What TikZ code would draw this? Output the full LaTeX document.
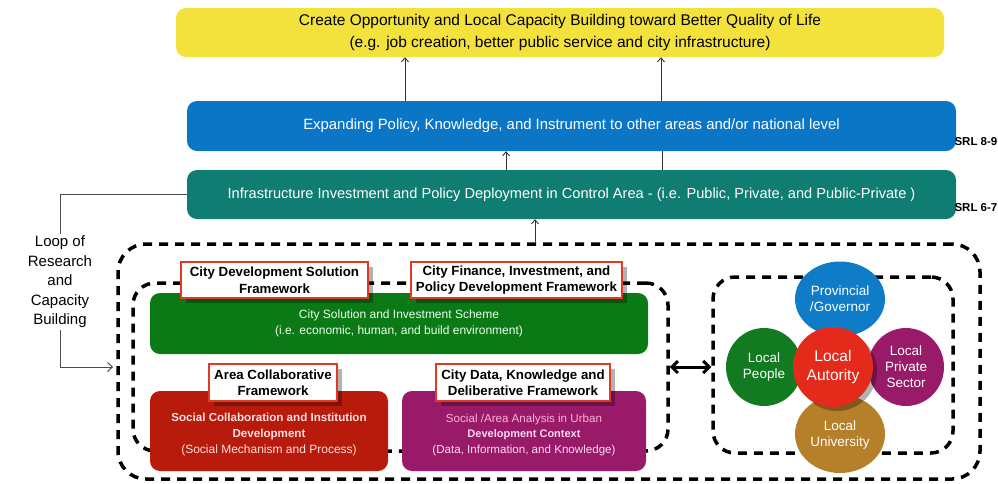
\documentclass[tikz,border=0pt]{standalone}
\usepackage{fontspec}
\setmainfont{Liberation Sans}
\usetikzlibrary{arrows.meta,shadows,calc,shapes.geometric}
\definecolor{cyellow}{HTML}{F4E23C}
\definecolor{cblue}{HTML}{0C76C6}
\definecolor{cteal}{HTML}{0F7D72}
\definecolor{cgreen}{HTML}{0B7A16}
\definecolor{cred}{HTML}{B81A0C}
\definecolor{cpurple}{HTML}{9A1A6A}
\definecolor{labred}{HTML}{E03A22}
\definecolor{ccblue}{HTML}{0F7CC8}
\definecolor{ccgreen}{HTML}{127A20}
\definecolor{ccred}{HTML}{E42A1A}
\definecolor{ccbrown}{HTML}{B67F2A}
\begin{document}
\begin{tikzpicture}[x=1pt,y=-1pt,
  box/.style={rounded corners=10pt, inner sep=0pt, align=center, text=white},
  dashbox/.style={draw=black, line width=3.5pt, dash pattern=on 9pt off 7pt, inner sep=0pt},
  lab/.style={draw=labred, line width=2.5pt, fill=white, align=center, inner sep=0pt,
    font=\fontsize{13.3}{16.5}\selectfont\bfseries,
    drop shadow={shadow xshift=5pt, shadow yshift=-5pt, opacity=0.3, fill=black}},
  arr/.style={draw=black!80, line width=0.9pt, -{Straight Barb[length=4pt,width=7pt]}},
  plainline/.style={draw=black!80, line width=0.9pt},
  loopline/.style={draw=black!70, line width=1pt},
  circ/.style={ellipse, inner sep=0pt, align=center, text=white, font=\fontsize{13.5}{16}\selectfont},
  srl/.style={anchor=west, font=\fontsize{11.5}{13}\selectfont\bfseries}
]
\useasboundingbox (0,0) rectangle (998,483);

% dashed frames
\node[dashbox, rounded corners=28pt, minimum width=862pt, minimum height=235pt] (outer) at (549,361.5) {};
\node[dashbox, rounded corners=22pt, minimum width=535pt, minimum height=168pt] (innerL) at (400.5,367) {};
\node[dashbox, rounded corners=22pt, minimum width=240pt, minimum height=176pt] (innerR) at (833,365) {};

% top boxes
\node[box, fill=cyellow, text=black, minimum width=768pt, minimum height=49pt,
  font=\fontsize{15.5}{21.5}\selectfont] (top) at (560,32.5)
  {Create Opportunity and Local Capacity Building toward Better Quality of Life\\(e.g. job creation, better public service and city infrastructure)};
\node[box, fill=cblue, minimum width=769pt, minimum height=50pt,
  font=\fontsize{14.9}{17}\selectfont] (expand) at (571.5,126)
  {Expanding Policy, Knowledge, and Instrument to other areas and/or national level};
\node[box, fill=cteal, minimum width=769pt, minimum height=49pt,
  font=\fontsize{14.6}{17}\selectfont] (infra) at (571.5,194.5)
  {Infrastructure Investment and Policy Deployment in Control Area - (i.e. Public, Private, and Public-Private )};

\node[srl] (srl1) at (951,142) {SRL 8-9};
\node[srl] (srl2) at (951,208) {SRL 6-7};

% vertical connectors
\coordinate (xa) at (405,0);
\coordinate (xb) at (661,0);
\coordinate (xc) at (506,0);
\coordinate (xd) at (662,0);
\coordinate (xe) at (535,0);
\draw[arr] (xa |- expand.north) -- (xa |- top.south);
\draw[arr] (xb |- expand.north) -- (xb |- top.south);
\draw[arr] (xc |- infra.north) -- (xc |- expand.south);
\draw[plainline] (xd |- infra.north) -- (xd |- expand.south);
\draw[arr] (xe |- outer.north) -- (xe |- infra.south);

% loop
\node[align=center, inner sep=2pt, font=\fontsize{15}{19.5}\selectfont] (loop) at (60,282)
  {Loop of\\Research\\and\\Capacity\\Building};
\draw[loopline] (infra.west) -| (loop.north);
\draw[loopline, -{Straight Barb[length=5pt,width=9pt]}] (loop.south) |- ($(outer.west)+(-3,5.5)$);

% inner left content
\node[box, fill=cgreen, text=green!8!white, minimum width=498pt, minimum height=61pt,
  font=\fontsize{12}{16}\selectfont] (green) at (399,323.5)
  {\rule{0pt}{8pt}City Solution and Investment Scheme\\(i.e. economic, human, and build environment)};
\node[box, fill=cred, text=red!12!white, minimum width=238pt, minimum height=80pt,
  font=\fontsize{12}{15.8}\selectfont] (redbox) at (269,431)
  {\rule{0pt}{16pt}\textbf{\fontsize{11.6}{15.8}\selectfont Social Collaboration and Institution}\\\textbf{\fontsize{11.6}{15.8}\selectfont Development}\\(Social Mechanism and Process)};
\node[box, fill=cpurple, text=magenta!15!white, minimum width=244pt, minimum height=80pt,
  font=\fontsize{11.6}{15.8}\selectfont] (purplebox) at (524,431)
  {\rule{0pt}{16pt}{\color{magenta!30!white}Social /Area Analysis in Urban}\\\textbf{\fontsize{11}{15.8}\selectfont Development Context}\\(Data, Information, and Knowledge)};

\node[lab, minimum width=187pt, minimum height=36pt] (lab1) at (274.5,280)
  {City Development Solution\\Framework};
\node[lab, minimum width=211pt, minimum height=36pt] (lab2) at (516.5,280)
  {City Finance, Investment, and\\Policy Development Framework};
\node[lab, minimum width=128pt, minimum height=37pt] (lab3) at (273,382.5)
  {Area Collaborative\\Framework};
\node[lab, minimum width=174pt, minimum height=37pt] (lab4) at (523,382.5)
  {City Data, Knowledge and\\Deliberative Framework};

% double arrow
\draw[line width=3pt, {Straight Barb[length=6pt,width=12pt]}-{Straight Barb[length=6pt,width=12pt]}]
  (innerL.east) -- (innerR.west |- innerL.east);

% circles
\node[circ, fill=ccblue, minimum width=90pt, minimum height=75pt] (prov) at (840,299) {Provincial\\/Governor};
\node[circ, fill=ccbrown, minimum width=90pt, minimum height=78pt] (univ) at (840,434) {\\[-4pt]Local\\University};
\node[circ, fill=ccgreen, minimum width=76pt, minimum height=78pt] (people) at (764,367) {Local\\People};
\node[circ, fill=cpurple, minimum width=76pt, minimum height=78pt] (priv) at (906,367) {Local\\Private\\Sector};
\node[circ, fill=ccred, minimum width=80pt, minimum height=80pt, font=\fontsize{15.5}{18.5}\selectfont,
  drop shadow={shadow xshift=4pt, shadow yshift=-4pt, opacity=0.3, fill=black}] (auth) at (833,367) {Local\\Autority};
\end{tikzpicture}
\end{document}
